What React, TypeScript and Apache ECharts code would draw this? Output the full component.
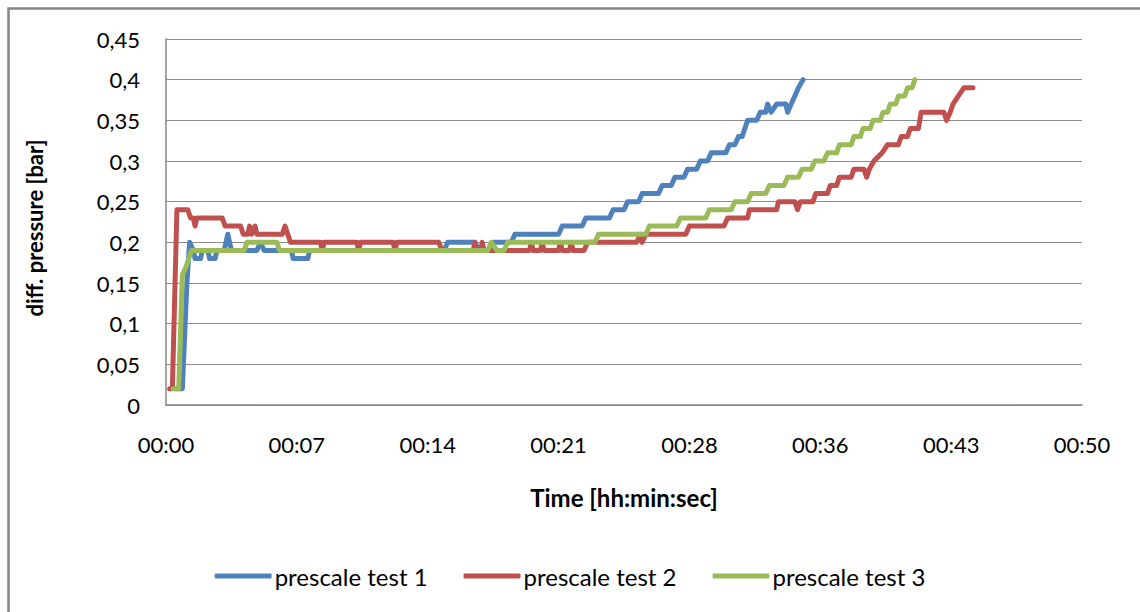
import React, { useEffect, useRef } from "react";
import * as echarts from "echarts";

// time in minutes, values in bar
const test1Time = [0.55, 0.9, 1.15, 1.3, 1.5, 1.6, 1.9, 2.0, 2.3, 2.4, 2.7, 2.8, 3.2, 3.4, 3.6, 5.0, 5.2, 5.4, 6.9, 7.0, 7.8, 7.9, 15.3, 15.5, 17.0, 17.2, 17.8, 18.0, 19.0, 19.2, 21.6, 21.8, 22.9, 23.1, 24.4, 24.6, 25.2, 25.4, 26.0, 26.2, 27.1, 27.3, 27.8, 28.0, 28.5, 28.7, 29.2, 29.4, 29.8, 30.0, 30.8, 31.0, 31.3, 31.5, 31.7, 31.85, 32.0, 32.5, 32.7, 33.0, 33.1, 33.3, 33.6, 34.1, 34.2, 34.4, 34.6, 34.8, 35.05];
const test1Values = [0.02, 0.02, 0.15, 0.2, 0.19, 0.18, 0.18, 0.19, 0.19, 0.18, 0.18, 0.19, 0.19, 0.21, 0.19, 0.19, 0.2, 0.19, 0.19, 0.18, 0.18, 0.19, 0.19, 0.2, 0.2, 0.19, 0.19, 0.2, 0.2, 0.21, 0.21, 0.22, 0.22, 0.23, 0.23, 0.24, 0.24, 0.25, 0.25, 0.26, 0.26, 0.27, 0.27, 0.28, 0.28, 0.29, 0.29, 0.3, 0.3, 0.31, 0.31, 0.32, 0.32, 0.33, 0.33, 0.34, 0.35, 0.35, 0.36, 0.36, 0.37, 0.36, 0.37, 0.37, 0.36, 0.37, 0.38, 0.39, 0.4];

const test2Time = [0.2, 0.35, 0.6, 1.2, 1.35, 1.5, 1.6, 1.7, 3.1, 3.25, 4.1, 4.25, 4.5, 4.6, 4.7, 4.9, 5.0, 6.4, 6.55, 6.7, 6.85, 8.5, 8.6, 8.7, 10.5, 10.6, 10.7, 12.5, 12.6, 12.7, 15.0, 15.2, 16.9, 17.0, 17.1, 17.3, 17.4, 17.5, 18.6, 18.8, 20.0, 20.1, 20.2, 20.6, 20.7, 20.8, 21.6, 21.7, 21.8, 22.2, 22.3, 22.4, 23.0, 23.2, 25.9, 26.1, 26.2, 26.4, 28.6, 28.8, 30.7, 30.9, 32.0, 32.1, 33.6, 33.7, 34.6, 34.75, 34.9, 35.6, 35.75, 36.4, 36.55, 36.9, 37.05, 37.7, 37.85, 38.4, 38.55, 38.7, 38.95, 39.4, 39.7, 40.3, 40.45, 40.8, 40.95, 41.4, 41.55, 42.8, 42.95, 43.15, 43.3, 43.6, 43.9, 44.4];
const test2Values = [0.02, 0.02, 0.24, 0.24, 0.23, 0.23, 0.22, 0.23, 0.23, 0.22, 0.22, 0.21, 0.21, 0.22, 0.21, 0.22, 0.21, 0.21, 0.22, 0.21, 0.2, 0.2, 0.19, 0.2, 0.2, 0.19, 0.2, 0.2, 0.19, 0.2, 0.2, 0.19, 0.19, 0.2, 0.19, 0.19, 0.2, 0.19, 0.19, 0.19, 0.19, 0.2, 0.19, 0.19, 0.2, 0.19, 0.19, 0.2, 0.19, 0.19, 0.2, 0.19, 0.19, 0.2, 0.2, 0.21, 0.2, 0.21, 0.21, 0.22, 0.22, 0.23, 0.23, 0.24, 0.24, 0.25, 0.25, 0.24, 0.25, 0.25, 0.26, 0.26, 0.27, 0.27, 0.28, 0.28, 0.29, 0.29, 0.28, 0.29, 0.3, 0.31, 0.32, 0.32, 0.33, 0.33, 0.34, 0.34, 0.36, 0.36, 0.35, 0.36, 0.37, 0.38, 0.39, 0.39];

const test3Time = [0.4, 0.7, 0.9, 1.1, 1.4, 4.3, 4.45, 6.1, 6.25, 17.7, 17.9, 18.2, 18.6, 18.8, 23.6, 23.8, 26.4, 26.6, 28.1, 28.3, 29.7, 29.9, 31.1, 31.3, 32.0, 32.2, 33.0, 33.2, 34.0, 34.2, 34.8, 35.0, 35.5, 35.7, 36.2, 36.4, 36.9, 37.05, 37.7, 37.85, 38.2, 38.35, 38.75, 38.9, 39.3, 39.45, 39.7, 39.85, 40.15, 40.3, 40.65, 40.8, 41.05, 41.2];
const test3Values = [0.02, 0.02, 0.16, 0.17, 0.19, 0.19, 0.2, 0.2, 0.19, 0.19, 0.2, 0.19, 0.19, 0.2, 0.2, 0.21, 0.21, 0.22, 0.22, 0.23, 0.23, 0.24, 0.24, 0.25, 0.25, 0.26, 0.26, 0.27, 0.27, 0.28, 0.28, 0.29, 0.29, 0.3, 0.3, 0.31, 0.31, 0.32, 0.32, 0.33, 0.33, 0.34, 0.34, 0.35, 0.35, 0.36, 0.36, 0.37, 0.37, 0.38, 0.38, 0.39, 0.39, 0.4];

const seriesNames = ["prescale test 1", "prescale test 2", "prescale test 3"];
const seriesColors = ["#4F81BD", "#C0504D", "#9BBB59"];
const yTitle = "diff. pressure [bar]";
const xTitle = "Time [hh:min:sec]";

const FONT = "Lato, 'Noto Sans', sans-serif";

function pairs(t: number[], v: number[]) {
  return t.map((x, i) => [x, v[i]]);
}

export default function App() {
  const ref = useRef<HTMLDivElement>(null);
  useEffect(() => {
    if (!ref.current) return;
    const chart = echarts.init(ref.current, undefined, { renderer: "svg" });
    const datasets = [pairs(test1Time, test1Values), pairs(test2Time, test2Values), pairs(test3Time, test3Values)];
    chart.setOption({
      animation: false,
      backgroundColor: "#ffffff",
      textStyle: { fontFamily: FONT },
      graphic: [
        {
          type: "rect",
          shape: { x: 8.5, y: 8.5, width: 1200, height: 700 },
          style: { fill: "none", stroke: "#868686", lineWidth: 2.5 },
          silent: true,
        },
        {
          type: "text",
          x: 34,
          y: 228,
          rotation: Math.PI / 2,
          silent: true,
          style: {
            text: yTitle,
            fill: "#000",
            font: "bold 22px " + FONT,
            align: "center",
            verticalAlign: "middle",
          },
        },
      ],
      grid: { left: 166, right: 58, top: 39, bottom: 207 },
      legend: {
        left: "center",
        top: 559,
        icon: "roundRect",
        itemWidth: 57,
        itemHeight: 5,
        itemGap: 36,
        textStyle: { fontFamily: FONT, fontSize: 24, color: "#000", padding: [0, 0, 0, -2] },
        data: seriesNames,
      },
      xAxis: {
        type: "value",
        min: 0,
        max: 50.4,
        interval: 7.2,
        name: xTitle,
        nameLocation: "middle",
        nameGap: 80,
        nameTextStyle: { fontFamily: FONT, fontSize: 24, fontWeight: "bold", color: "#000" },
        axisLine: { show: true, lineStyle: { color: "#868686", width: 1.5 } },
        axisTick: { show: false },
        splitLine: { show: false },
        axisLabel: {
          margin: 28,
          fontFamily: FONT,
          fontSize: 22,
          color: "#000",
          showMaxLabel: true,
          formatter: (v: number) => {
            const m = Math.floor(v + 1e-6);
            return "00:" + (m < 10 ? "0" + m : String(m));
          },
        },
      },
      yAxis: {
        type: "value",
        min: 0,
        max: 0.45,
        interval: 0.05,
        axisLine: { show: true, lineStyle: { color: "#868686", width: 1.5 } },
        axisTick: { show: false },
        splitLine: { show: true, lineStyle: { color: "#8c8c8c", width: 1.2 } },
        axisLabel: {
          margin: 26,
          fontFamily: FONT,
          fontSize: 22,
          color: "#000",
          formatter: (v: number) => String(+v.toFixed(2)).replace(".", ","),
        },
      },
      series: datasets.map((d, i) => ({
        name: seriesNames[i],
        type: "line",
        data: d,
        symbol: "none",
        showSymbol: false,
        color: seriesColors[i],
        lineStyle: { color: seriesColors[i], width: 5, cap: "round", join: "round" },
      })),
    });
    return () => chart.dispose();
  }, []);
  return (
    <div
      ref={ref}
      style={{ position: "fixed", left: 0, top: 0, width: 1140, height: 612 }}
    />
  );
}
